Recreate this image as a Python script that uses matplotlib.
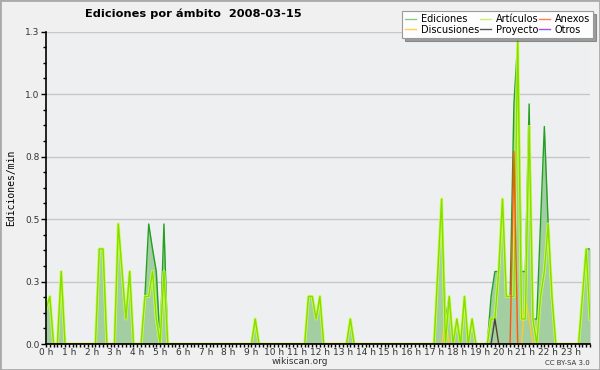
import matplotlib as mpl
mpl.use('Agg')
import matplotlib.pyplot as plt
from matplotlib.patches import Rectangle
from matplotlib.ticker import FixedLocator
import numpy as np

# one value per 10 minute slot (144 slots), edits per minute
# each row = 2 hours
ediciones = [
    0.14, 0.19, 0, 0, 0.29, 0, 0, 0, 0, 0, 0, 0,
    0, 0, 0.38, 0.38, 0, 0, 0, 0.48, 0.29, 0.10, 0.29, 0,
    0, 0, 0.19, 0.48, 0.38, 0.29, 0, 0.48, 0, 0, 0, 0,
    0, 0, 0, 0, 0, 0, 0, 0, 0, 0, 0, 0,
    0, 0, 0, 0, 0, 0, 0, 0.10, 0, 0, 0, 0,
    0, 0, 0, 0, 0, 0, 0, 0, 0, 0.19, 0.19, 0.10,
    0.19, 0, 0, 0, 0, 0, 0, 0, 0.10, 0, 0, 0,
    0, 0, 0, 0, 0, 0, 0, 0, 0, 0, 0, 0,
    0, 0, 0, 0, 0, 0, 0, 0.29, 0.58, 0.10, 0.19, 0,
    0.10, 0, 0.19, 0, 0.10, 0, 0, 0, 0, 0.19, 0.29, 0.29,
    0.58, 0.19, 0.19, 0.96, 1.21, 0.29, 0.29, 0.96, 0.10, 0.10, 0.48, 0.87,
    0.48, 0.19, 0, 0, 0, 0, 0, 0, 0, 0.19, 0.38, 0.38,
]
articulos = [
    0.14, 0.19, 0, 0, 0.29, 0, 0, 0, 0, 0, 0, 0,
    0, 0, 0.38, 0.38, 0, 0, 0, 0.48, 0.29, 0.10, 0.29, 0,
    0, 0, 0.19, 0.19, 0.29, 0.10, 0, 0.29, 0, 0, 0, 0,
    0, 0, 0, 0, 0, 0, 0, 0, 0, 0, 0, 0,
    0, 0, 0, 0, 0, 0, 0, 0.10, 0, 0, 0, 0,
    0, 0, 0, 0, 0, 0, 0, 0, 0, 0.19, 0.19, 0.10,
    0.19, 0, 0, 0, 0, 0, 0, 0, 0.10, 0, 0, 0,
    0, 0, 0, 0, 0, 0, 0, 0, 0, 0, 0, 0,
    0, 0, 0, 0, 0, 0, 0, 0.29, 0.58, 0, 0.19, 0,
    0.10, 0, 0.19, 0, 0.10, 0, 0, 0, 0, 0.10, 0.10, 0.29,
    0.58, 0.19, 0.19, 0.19, 1.21, 0.10, 0.10, 0.87, 0.10, 0, 0.19, 0.29,
    0.48, 0.19, 0, 0, 0, 0, 0, 0, 0, 0.19, 0.38, 0.10,
]
# the small series only have a few non-zero slots
discusiones_slots = [105, 117, 118, 126, 127]
discusiones_vals = [0.10, 0.10, 0.10, 0.19, 0.10]
proyecto_slots = [118]
proyecto_vals = [0.10]
anexos_slots = [123]
anexos_vals = [0.77]
otros_slots = []
otros_vals = []

hour_labels = [f"{h} h" for h in range(24)]
ytick_vals = [0, 0.25, 0.5, 0.75, 1.0, 1.25]
ytick_labels = ['0.0', '0.3', '0.5', '0.8', '1.0', '1.3']


def sparse(slots, vals):
    arr = np.zeros(144)
    for s, v in zip(slots, vals):
        arr[s] = v
    return arr


x = np.arange(144) / 6.0
discusiones = sparse(discusiones_slots, discusiones_vals)
proyecto = sparse(proyecto_slots, proyecto_vals)
anexos = sparse(anexos_slots, anexos_vals)
otros = sparse(otros_slots, otros_vals)

fig = plt.figure(figsize=(6, 3.7), dpi=100, facecolor='#f0f0f0')
ax = fig.add_axes([46/600, 1 - 344/370, 544/600, 312.5/370])
ax.set_facecolor('#eeeff0')

ax.fill_between(x, ediciones, color='#a2cea2', lw=0, zorder=1)
ax.plot(x, ediciones, color='#22a022', lw=1.0, zorder=2)
ax.plot(x, discusiones, color='#ffcc22', lw=1.0, zorder=2)
ax.plot(x, articulos, color='#ccff55', lw=2.2, alpha=0.9, zorder=3)
ax.plot(x, articulos, color='#88dd00', lw=1.0, zorder=3)
ax.plot(x, proyecto, color='#444444', lw=1.0, zorder=4)
ax.plot(x, anexos, color='#ff5511', lw=1.0, zorder=4)
ax.plot(x, otros, color='#9944ee', lw=1.0, zorder=1.5)

# legend uses the paler swatches of the original
legend_names = ['Ediciones', 'Discusiones', 'Artículos', 'Proyecto',
                'Anexos', 'Otros']
legend_colors = ['#88cc88', '#ffd050', '#ccee66', '#555555',
                 '#ff8050', '#9955ee']
handles = [plt.Line2D([], [], color=c, lw=1) for c in legend_colors]

ax.set_xlim(0, 143 / 6.0)
ax.set_ylim(0, 1.25)
ax.set_xticks(range(24))
ax.set_xticklabels(hour_labels)
ax.xaxis.set_minor_locator(FixedLocator(x))
ax.set_yticks(ytick_vals)
ax.set_yticklabels(ytick_labels)
ax.yaxis.set_minor_locator(FixedLocator(np.arange(0, 1.26, 0.0625)))
ax.tick_params(axis='both', which='both', direction='out', color='black',
               labelsize=6.5, labelcolor='#333333', pad=0.5)
ax.tick_params(axis='x', which='both', length=2.5, width=1)
ax.tick_params(axis='y', which='major', length=3.5, width=1, pad=1)
ax.tick_params(axis='y', which='minor', length=2, width=1)
ax.grid(axis='y', color='#c8c8c8', lw=1)
ax.set_axisbelow(True)
for side in ['top', 'right']:
    ax.spines[side].set_visible(False)
for side in ['left', 'bottom']:
    ax.spines[side].set_linewidth(1.2)
    ax.spines[side].set_zorder(5)

ax.set_ylabel('Ediciones/min', family='DejaVu Sans Mono', fontsize=7,
              labelpad=7)

fig.text(85/600, 1 - 14/370, 'Ediciones por ámbito  2008-03-15',
         fontsize=8.2, fontweight='bold', ha='left', va='center')
fig.text(300/600, 1 - 362/370, 'wikiscan.org', fontsize=6.5,
         color='#333333', ha='center', va='center')
fig.text(590/600, 1 - 363/370, 'CC BY-SA 3.0', fontsize=5,
         color='#333333', ha='right', va='center')

leg = fig.legend(handles, legend_names, loc='upper right',
                 bbox_to_anchor=(593/600, 1 - 11/370),
                 ncol=3, fontsize=7, frameon=True, shadow=True,
                 fancybox=False, handlelength=1.1, handletextpad=0.5,
                 columnspacing=0.1, borderpad=0.3, labelspacing=0.1,
                 borderaxespad=0)
leg.get_frame().set_edgecolor('#999999')
leg.get_frame().set_facecolor('#fdfdfd')
leg.get_frame().set_linewidth(0.8)

fig.patches.append(Rectangle((0, 0), 1, 1, transform=fig.transFigure,
                             fill=False, edgecolor='#aaaaaa', lw=2))

fig.savefig('out.png', dpi=100, facecolor=fig.get_facecolor())
